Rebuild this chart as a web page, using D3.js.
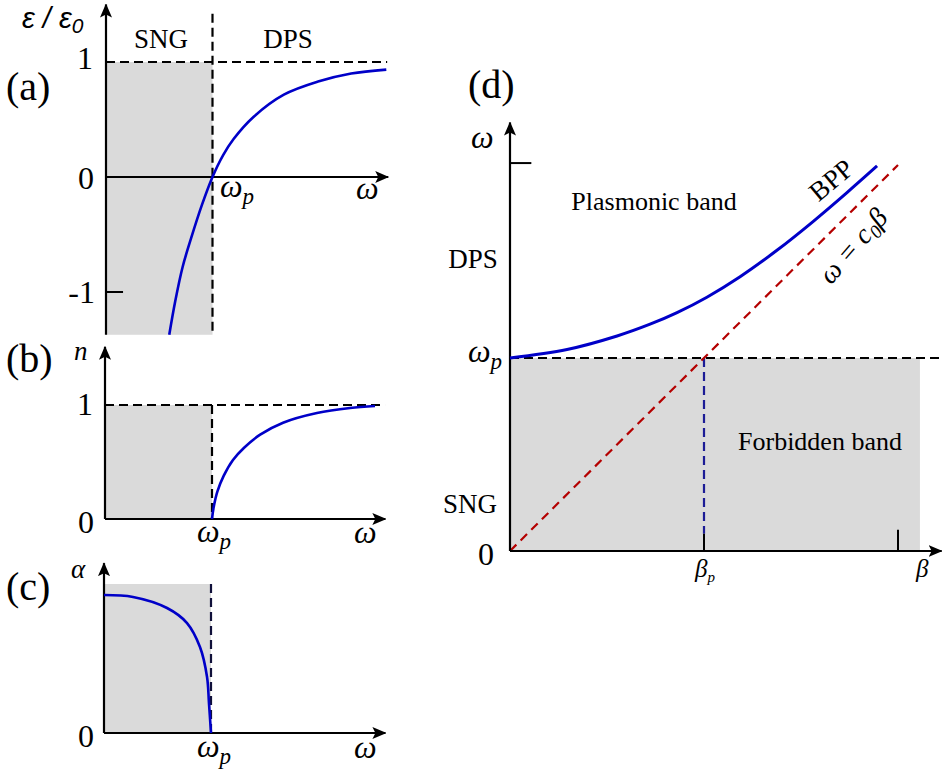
<!DOCTYPE html>
<html>
<head>
<meta charset="utf-8">
<script src="https://cdn.jsdelivr.net/npm/d3@7"></script>
<style>
  body { margin: 0; background: #fff; }
  text { font-family: "Liberation Serif", "Times New Roman", serif; fill: #000; }
</style>
</head>
<body>
<div id="chart"></div>
<script>
// values (omega in units of omega_p, beta in units of beta_p)
var epsOmega = [0.594, 0.650, 0.720, 0.800, 0.900, 1.0, 1.100, 1.198, 1.387, 1.670, 1.991, 2.302, 2.632];
var epsValue = [-1.371, -1.080, -0.780, -0.530, -0.245, 0, 0.190, 0.330, 0.524, 0.716, 0.830, 0.900, 0.934];

var nOmega = [1.0, 1.015, 1.050, 1.110, 1.196, 1.300, 1.450, 1.664, 1.981, 2.290, 2.523];
var nValue = [0, 0.100, 0.240, 0.380, 0.518, 0.625, 0.740, 0.845, 0.930, 0.974, 0.991];

var alphaOmega = [0, 0.271, 0.589, 0.776, 0.897, 0.963, 0.981, 1.0];
var alphaValue = [0.926, 0.913, 0.839, 0.738, 0.577, 0.376, 0.201, 0];

var bppBeta  = [0, 0.294, 0.552, 0.722, 0.861, 1.015, 1.186, 1.376, 1.562, 1.737, 1.892];
var bppOmega = [1.0, 1.044, 1.114, 1.175, 1.235, 1.315, 1.421, 1.558, 1.707, 1.857, 1.995];

var lightBeta  = [0, 2.0];
var lightOmega = [0, 2.0];

var svgWidth = 942;
var svgHeight = 769;

var svg = d3.select("#chart")
  .append("svg")
  .attr("width", svgWidth)
  .attr("height", svgHeight);

// arrow head for the axes
svg.append("defs").append("marker")
  .attr("id", "arrow")
  .attr("markerUnits", "userSpaceOnUse")
  .attr("viewBox", "0 0 14 12")
  .attr("refX", 13)
  .attr("refY", 6)
  .attr("markerWidth", 14)
  .attr("markerHeight", 12)
  .attr("orient", "auto")
  .append("path")
  .attr("d", "M0,0 L14,6 L0,12 L3,6 Z")
  .attr("fill", "#000");

var shade = "#dadada";
var blue = "#0000c8";
var darkRed = "#b40000";
var navy = "#1c1c96";

function zip(xs, ys) {
  return xs.map(function(x, i) { return [x, ys[i]]; });
}

function axisLine(g, x1, y1, x2, y2) {
  g.append("line")
    .attr("x1", x1).attr("y1", y1)
    .attr("x2", x2).attr("y2", y2)
    .attr("stroke", "#000")
    .attr("stroke-width", 2.2)
    .attr("marker-end", "url(#arrow)");
}

function dashed(g, x1, y1, x2, y2, color) {
  g.append("line")
    .attr("x1", x1).attr("y1", y1)
    .attr("x2", x2).attr("y2", y2)
    .attr("stroke", color || "#000")
    .attr("stroke-width", 2.2)
    .attr("stroke-dasharray", "9,5");
}

function label(g, x, y, txt, size, anchor, italic) {
  return g.append("text")
    .attr("x", x).attr("y", y)
    .attr("font-size", size)
    .attr("text-anchor", anchor || "start")
    .attr("font-style", italic ? "italic" : "normal")
    .text(txt);
}

function omegaP(g, x, y, size, anchor) {
  var t = g.append("text")
    .attr("x", x).attr("y", y)
    .attr("font-size", size)
    .attr("text-anchor", anchor || "start")
    .attr("font-style", "italic");
  t.append("tspan").text("ω");
  t.append("tspan").attr("dy", size * 0.22).attr("font-size", size * 0.72).text("p");
  return t;
}

function curve(g, x, y, pts, color, width) {
  g.append("path")
    .datum(pts)
    .attr("fill", "none")
    .attr("stroke", color)
    .attr("stroke-width", width)
    .attr("d", d3.line().x(d => x(d[0])).y(d => y(d[1])).curve(d3.curveCatmullRom.alpha(0.5)));
}

// ---------- panel (a): permittivity ----------
var ax = d3.scaleLinear().domain([0, 1]).range([106, 212.5]);
var ay = d3.scaleLinear().domain([0, 1]).range([177, 62]);
var ga = svg.append("g");

ga.append("rect")
  .attr("x", ax(0)).attr("y", ay(1))
  .attr("width", ax(1) - ax(0)).attr("height", ay(-1.372) - ay(1))
  .attr("fill", shade);

dashed(ga, ax(0), ay(1), ax(2.64), ay(1));
dashed(ga, ax(1), ay(1.42), ax(1), ay(-1.372));
axisLine(ga, ax(0), ay(-1.372), ax(0), ay(1.5));
axisLine(ga, ax(0), ay(0), ax(2.65), ay(0));
ga.append("line")
  .attr("x1", ax(0)).attr("x2", ax(0.16))
  .attr("y1", ay(-1)).attr("y2", ay(-1))
  .attr("stroke", "#000").attr("stroke-width", 2);

curve(ga, ax, ay, zip(epsOmega, epsValue), blue, 2.6);

label(ga, 93, ay(1) + 7, "1", 32, "end");
label(ga, 94, ay(0) + 12, "0", 32, "end");
label(ga, 95, ay(-1) + 11, "-1", 32, "end");
label(ga, 6, 100, "(a)", 40);
label(ga, 161, 48, "SNG", 27, "middle");
label(ga, 288, 48, "DPS", 27, "middle");
omegaP(ga, 220, 197, 32);
label(ga, 356, 199, "ω", 32, "start", true);

var epsLabel = ga.append("text")
  .attr("x", 22).attr("y", 28)
  .attr("font-size", 29)
  .attr("font-style", "italic")
  .style("font-family", "'Liberation Sans', Arial, sans-serif");
epsLabel.append("tspan").text("ε / ε");
epsLabel.append("tspan").attr("dy", 5).attr("font-size", 21).text("0");

// ---------- panel (b): refractive index ----------
var bx = d3.scaleLinear().domain([0, 1]).range([105, 212]);
var by = d3.scaleLinear().domain([0, 1]).range([519, 405]);
var gb = svg.append("g");

gb.append("rect")
  .attr("x", bx(0)).attr("y", by(1))
  .attr("width", bx(1) - bx(0)).attr("height", by(0) - by(1))
  .attr("fill", shade);

dashed(gb, bx(0), by(1), bx(2.617), by(1));
dashed(gb, bx(1), by(1), bx(1), by(0));
axisLine(gb, bx(0), by(0), bx(0), by(1.51));
axisLine(gb, bx(0), by(0), bx(2.62), by(0));

curve(gb, bx, by, zip(nOmega, nValue), blue, 2.6);

label(gb, 93, by(1) + 10, "1", 32, "end");
label(gb, 94, by(0) + 14, "0", 32, "end");
label(gb, 6, 372, "(b)", 40);
label(gb, 74, 360, "n", 27, "start", true);
omegaP(gb, 197, 542, 32);
label(gb, 354, 543, "ω", 32, "start", true);

// ---------- panel (c): attenuation ----------
var cx = d3.scaleLinear().domain([0, 1]).range([104, 211]);
var cy = d3.scaleLinear().domain([0, 1]).range([733, 584]);
var gc = svg.append("g");

gc.append("rect")
  .attr("x", cx(0)).attr("y", cy(1))
  .attr("width", cx(1) - cx(0)).attr("height", cy(0) - cy(1))
  .attr("fill", shade);

dashed(gc, cx(1), cy(1), cx(1), cy(0), "#10103a");
axisLine(gc, cx(0), cy(0), cx(0), cy(1.14));
axisLine(gc, cx(0), cy(0), cx(2.63), cy(0));

curve(gc, cx, cy, zip(alphaOmega, alphaValue), blue, 2.6);

label(gc, 94, cy(0) + 14, "0", 32, "end");
label(gc, 6, 600, "(c)", 40);
label(gc, 71, 578, "α", 27, "start", true);
omegaP(gc, 197, 757, 32);
label(gc, 354, 758, "ω", 32, "start", true);

// ---------- panel (d): dispersion ----------
var dx = d3.scaleLinear().domain([0, 1]).range([510, 704]);
var dy = d3.scaleLinear().domain([0, 1]).range([551, 358]);
var gd = svg.append("g");

gd.append("rect")
  .attr("x", dx(0)).attr("y", dy(1))
  .attr("width", dx(2.113) - dx(0)).attr("height", dy(0) - dy(1))
  .attr("fill", shade);

dashed(gd, dx(0), dy(1), dx(2.23), dy(1));
dashed(gd, dx(1), dy(1), dx(1), dy(0.09), navy);

gd.append("path")
  .datum(zip(lightBeta, lightOmega))
  .attr("fill", "none")
  .attr("stroke", darkRed)
  .attr("stroke-width", 2.2)
  .attr("stroke-dasharray", "9,6")
  .attr("d", d3.line().x(d => dx(d[0])).y(d => dy(d[1])));

axisLine(gd, dx(0), dy(0), dx(0), dy(2.22));
axisLine(gd, dx(0), dy(0), dx(2.225), dy(0));

[1, 2].forEach(function(b, i) {
  gd.append("line")
    .attr("x1", dx(b)).attr("x2", dx(b))
    .attr("y1", dy(0)).attr("y2", dy(i ? 0.11 : 0.09))
    .attr("stroke", "#000").attr("stroke-width", 2);
});
gd.append("line")
  .attr("x1", dx(0)).attr("x2", dx(0.11))
  .attr("y1", dy(2.01)).attr("y2", dy(2.01))
  .attr("stroke", "#000").attr("stroke-width", 2);

curve(gd, dx, dy, zip(bppBeta, bppOmega), blue, 3);

label(gd, 468, 98, "(d)", 40);
label(gd, 471, 148, "ω", 32, "start", true);
label(gd, 473, 268, "DPS", 27, "middle");
omegaP(gd, 468, 362, 32);
label(gd, 470, 513, "SNG", 27, "middle");
label(gd, 494, 565, "0", 32, "end");
label(gd, 654, 210, "Plasmonic band", 26, "middle");
label(gd, 820, 450, "Forbidden band", 26, "middle");

var bp = gd.append("text")
  .attr("x", 695).attr("y", 577)
  .attr("font-size", 25)
  .attr("font-style", "italic");
bp.append("tspan").text("β");
bp.append("tspan").attr("dy", 5).attr("font-size", 15).text("p");
label(gd, 916, 577, "β", 25, "start", true);

gd.append("text")
  .attr("transform", "translate(837,187) rotate(-40)")
  .attr("font-size", 27)
  .attr("text-anchor", "middle")
  .text("BPP");

var lightLabel = gd.append("text")
  .attr("transform", "translate(860,252) rotate(-49)")
  .attr("font-size", 28)
  .attr("text-anchor", "middle")
  .attr("font-style", "italic");
lightLabel.append("tspan").text("ω = c");
lightLabel.append("tspan").attr("dy", 5).attr("font-size", 19).text("0");
lightLabel.append("tspan").attr("dy", -5).text("β");
</script>
</body>
</html>
